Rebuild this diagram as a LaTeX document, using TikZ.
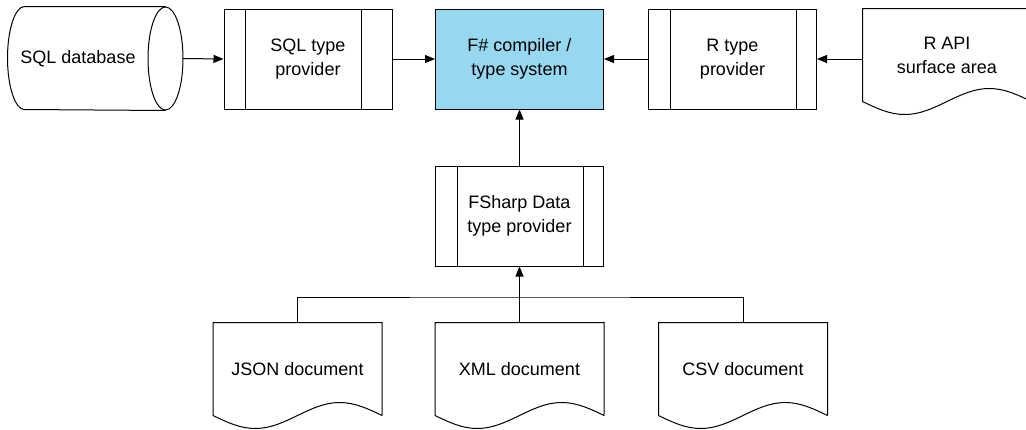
\documentclass[tikz,border=0pt]{standalone}
\usepackage{fontspec}
\setmainfont{Liberation Sans}
\usetikzlibrary{arrows.meta,calc}
\definecolor{compilerblue}{RGB}{151,216,241}
\begin{document}
\begin{tikzpicture}[x=1pt,y=-1pt,line width=1pt,font=\fontsize{18}{24}\selectfont,
  box/.style={draw,minimum width=168pt,minimum height=100pt,align=center,inner sep=0pt},
  doc/.style={minimum width=168pt,minimum height=92pt,align=center,inner sep=0pt},
  db/.style={minimum width=140pt,minimum height=103pt,align=center,inner sep=0pt},
  link/.style={-{Triangle[length=10pt,width=8pt]}}]
\useasboundingbox (0,0) rectangle (1026,429);
\clip (0,0) rectangle (1026,429);
\node[db] (sqldb) at (78,58.5) {SQL database};
\node[box] (sqltp) at (308,59) {SQL type\\provider};
\node[box,fill=compilerblue] (fsc) at (519.5,59) {F\# compiler /\\type system};
\node[box] (rtp) at (732.5,59) {R type\\provider};
\node[doc] (rapi) at (947,55) {R API\\surface area};
\node[box] (fsd) at (519.5,216) {FSharp Data\\type provider};
\node[doc] (json) at (297.5,369) {JSON document};
\node[doc] (xml) at (519.5,369) {XML document};
\node[doc] (csv) at (743,369) {CSV document};
\draw ([xshift=17]sqldb.north east) -- ([xshift=17]sqldb.north west)
  arc[start angle=90,end angle=270,x radius=17pt,y radius=51.5pt] -- ([xshift=17]sqldb.south east);
\draw ([xshift=17]sqldb.east) ellipse[x radius=17.5pt,y radius=51.5pt];
\foreach \n/\r in {sqltp/31,rtp/21,fsd/21}
  \draw ([xshift=22]\n.north west) -- ([xshift=22]\n.south west)
    ([xshift=-\r]\n.north east) -- ([xshift=-\r]\n.south east);
\foreach \n in {rapi,json,xml,csv}
  \draw (\n.south east) -- (\n.north east) -- (\n.north west) -- (\n.south west)
    sin ($(\n.south west)!.25!(\n.south east)+(0,13)$)
    cos ($(\n.south west)!.5!(\n.south east)$)
    sin ($(\n.south west)!.75!(\n.south east)+(0,-13)$)
    cos (\n.south east);
\draw[link] ([xshift=34.5]sqldb.east) -- (sqltp.west);
\draw[link] (sqltp.east) -- (fsc.west);
\draw[link] (rtp.west) -- (fsc.east);
\draw[link] (rtp.east -| rapi.west) -- (rtp.east);
\draw[link] (fsd.north) -- (fsc.south);
\coordinate (bus) at (519.5,297);
\draw (json.north) |- (bus) -| (csv.north);
\draw[link] (xml.north) -- (fsd.south);
\end{tikzpicture}
\end{document}
